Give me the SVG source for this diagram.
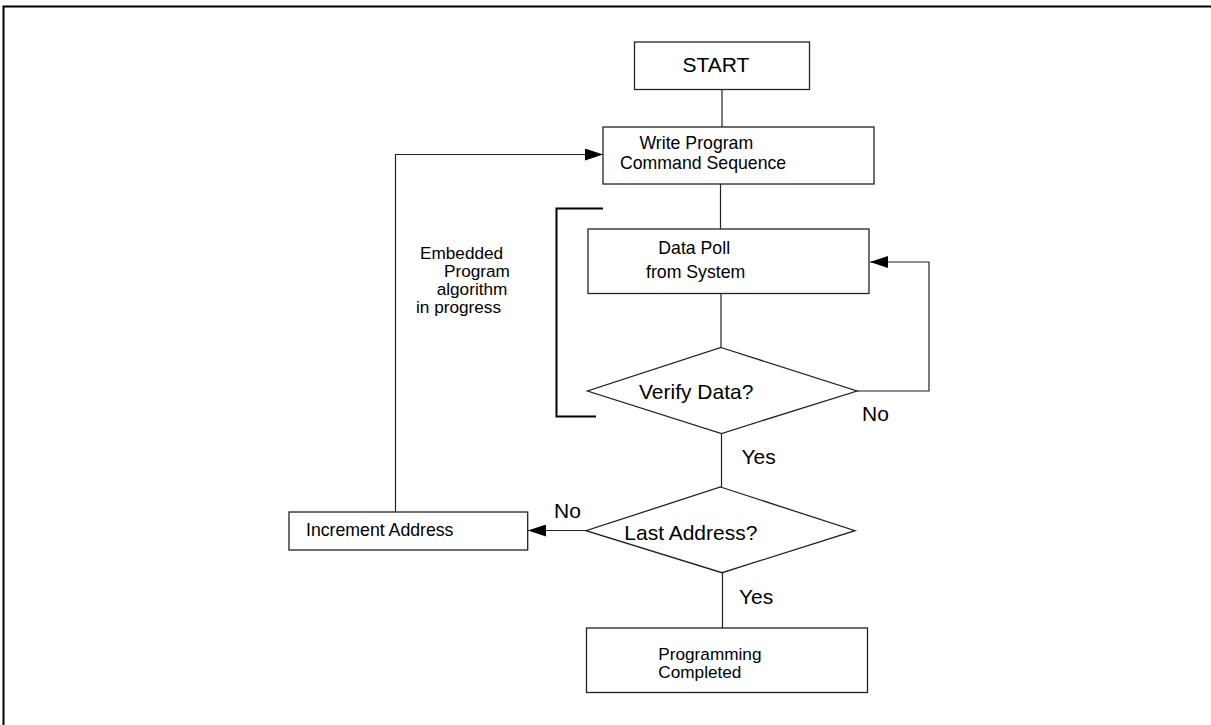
<svg xmlns="http://www.w3.org/2000/svg" width="1211" height="725" viewBox="0 0 1211 725">
<style>
.box{fill:#fff;stroke:#222;stroke-width:1.3}
.ln{fill:none;stroke:#222;stroke-width:1.2}
.t{font-family:"Liberation Sans",Arial,sans-serif;font-size:17.7px;fill:#000}
.ts{font-family:"Liberation Sans",Arial,sans-serif;font-size:17.2px;fill:#000}
.tb{font-family:"Liberation Sans",Arial,sans-serif;font-size:21px;fill:#000}
</style>
<defs>
<marker id="ah" markerWidth="18" markerHeight="12" refX="18" refY="6" orient="auto" markerUnits="userSpaceOnUse">
<path d="M0,0 L18,6 L0,12 Z" fill="#000"/>
</marker>
</defs>
<rect width="1211" height="725" fill="#fff"/>
<path d="M3.5,725 V6.5 H1211" fill="none" stroke="#000" stroke-width="2"/>
<g id="connectors">
<path class="ln" d="M722,89 V127"/>
<path class="ln" d="M720.5,184 V229"/>
<path class="ln" d="M721,293 V347"/>
<path class="ln" d="M857,391 H929 V262 H870" marker-end="url(#ah)"/>
<path class="ln" d="M721.5,433 V487"/>
<path class="ln" d="M586,530.5 H528" marker-end="url(#ah)"/>
<path class="ln" d="M395.5,512 V154.5 H603" marker-end="url(#ah)"/>
<path class="ln" d="M722.5,573 V628"/>
<path d="M603,208.5 H556.5 V416.5 H596" fill="none" stroke="#000" stroke-width="2"/>
<text class="tb" x="862" y="420.5">No</text>
<text class="tb" x="741.5" y="464">Yes</text>
<text class="tb" x="554" y="517.5">No</text>
<text class="tb" x="739" y="603.5">Yes</text>
</g>
<g id="start">
<rect class="box" x="634.5" y="42" width="175" height="47.5"/>
<text class="tb" x="716" y="71.5" text-anchor="middle">START</text>
</g>
<g id="write">
<rect class="box" x="603" y="127" width="271" height="57"/>
<text class="t" x="639.5" y="148.5">Write Program</text>
<text class="t" x="620" y="169">Command Sequence</text>
</g>
<g id="embedded-label">
<text class="ts" x="420" y="259.3">Embedded</text>
<text class="ts" x="444" y="277.3">Program</text>
<text class="ts" x="436.7" y="295">algorithm</text>
<text class="ts" x="416" y="312.8">in progress</text>
</g>
<g id="datapoll">
<rect class="box" x="588" y="229" width="281" height="64.5"/>
<text class="t" x="658.3" y="253.5">Data Poll</text>
<text class="t" x="646" y="277.7">from System</text>
</g>
<g id="verify">
<polygon class="box" points="721,347.5 857,391 721.5,433.5 587.5,391"/>
<text class="tb" x="639" y="399">Verify Data?</text>
</g>
<g id="last">
<polygon class="box" points="720.5,487 855,530.7 722,572.7 586,530.7"/>
<text class="tb" x="624.3" y="540">Last Address?</text>
</g>
<g id="increment">
<rect class="box" x="289" y="512" width="238.7" height="38"/>
<text class="t" x="306" y="536">Increment Address</text>
</g>
<g id="completed">
<rect class="box" x="586.5" y="628" width="281" height="64.5"/>
<text class="ts" x="658.3" y="659.5">Programming</text>
<text class="ts" x="658.3" y="678.3">Completed</text>
</g>
</svg>
